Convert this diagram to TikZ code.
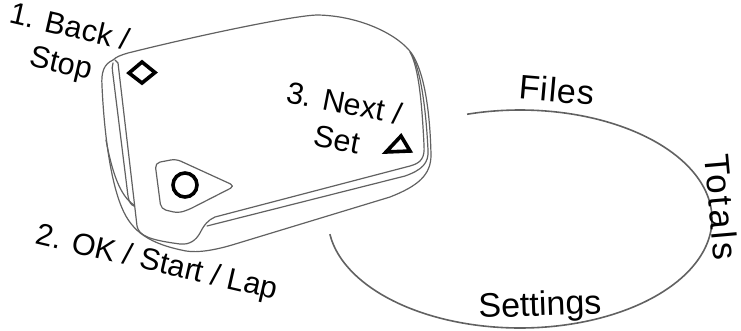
\documentclass[tikz,border=0pt]{standalone}
\usepackage{fontspec}
\setmainfont{Liberation Sans}
\usetikzlibrary{positioning,calc}

\begin{document}
\begin{tikzpicture}[x=1pt, y=-1pt,
    shell/.style={draw=black!62, line width=1.2pt, line join=round, line cap=round},
    keymark/.style={draw=black, line width=3.6pt, line join=miter},
    keylabel/.style={font=\fontsize{30.5}{37}\selectfont, inner sep=0pt, align=center},
    menulabel/.style={font=\fontsize{34}{38}\selectfont, inner sep=0pt},
    menuloop/.style={draw=black!62, line width=1.6pt}]
    \useasboundingbox (0,0) rectangle (741,330);
    % pod silhouette
    \draw [shell] (113,60) .. controls (104,64) and (101,72) .. (102,86) .. controls (104,130) and (110,180) .. (122,208) .. controls (132,232) and (150,244) .. (186,251) .. controls (198,253) and (215,250) .. (232,245) -- (390,197) .. controls (418,186) and (431,175) .. (431,155) .. controls (430,110) and (424,72) .. (412,54) .. controls (400,36) and (362,16) .. (318,15) .. controls (296,15) and (200,35) .. (128,53) .. controls (121,55) and (116,57) .. (113,60);
    % front face
    \draw [shell] (410,52) .. controls (419,68) and (422,105) .. (424,145) .. controls (425,158) and (421,163) .. (410,166) -- (215,217) .. controls (208,220) and (204,225) .. (200,233) .. controls (196,240) and (190,245) .. (180,244) .. controls (150,240) and (139,236) .. (137,226) -- (134,200) -- (118,63) .. controls (117,61) .. (115,60);
    % edge lines
    \draw [shell] (411,53) .. controls (421,70) and (426,110) .. (428,150) .. controls (429,163) and (422,170) .. (405,176) -- (207,226);
    \draw [shell] (113,63) .. controls (112,67) .. (113,75) -- (128,196) .. controls (129,202) and (131,205) .. (134,206);
    \draw [shell] (106,140) .. controls (112,172) and (120,196) .. (134,205);
    % ok key pad
    \draw [shell, rounded corners=5pt] (155,163) -- (176,159) -- (235,186) -- (188,210) -- (178,213) -- (161,209) -- cycle;
    % key marks
    \draw [keymark] (142,62) -- (155,72.5) -- (142,83) -- (129,73) -- cycle;
    \draw [keymark] (185,185) circle [radius=12];
    \draw [keymark] (401,136) -- (410,151) -- (386,152) -- cycle;
    % labels
    \node [keylabel, rotate=-13] (back) at (65,47) {1. Back /\\Stop};
    \node [keylabel, rotate=-11] (next) at (341,121) {3. Next /\\Set};
    \node [keylabel, rotate=-13] (ok) at (157,264) {2. OK / Start / Lap};
    % menu loop
    \draw [menuloop] plot [smooth, domain=-106:172, samples=80, variable=\t] ({520+192*cos(\t)}, {219+109*sin(\t)});
    \node [menulabel, rotate=-5] (files) at (557,90) {\addfontfeatures{LetterSpace=3}Files};
    \node [menulabel, rotate=-85, font=\fontsize{35}{38}\selectfont] (totals) at (722,207) {\addfontfeatures{LetterSpace=8}Totals};
    \node [menulabel, rotate=2] (settings) at (540,307) {Settings};
\end{tikzpicture}
\end{document}
